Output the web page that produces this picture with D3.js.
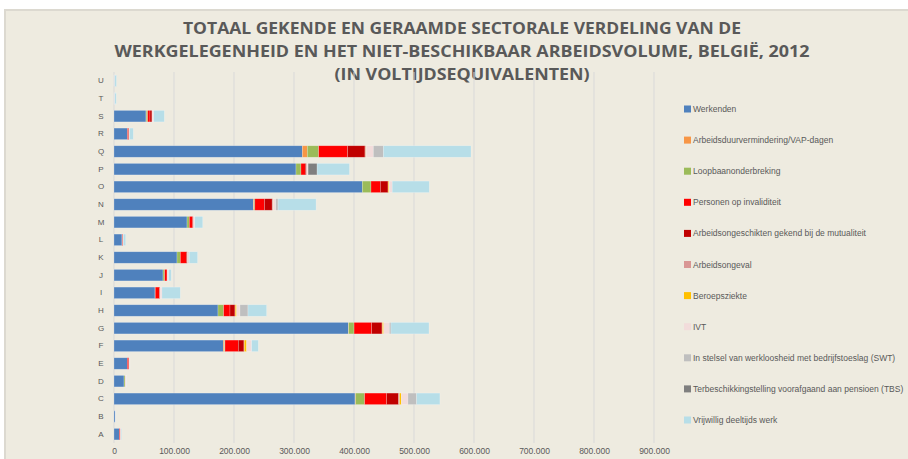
<!DOCTYPE html>
<html><head><meta charset="utf-8">
<script src="https://cdn.jsdelivr.net/npm/d3@7"></script>
<style>html,body{margin:0;padding:0;background:#fff;}svg{display:block;}</style>
</head><body>
<svg id="chart" width="908" height="459"></svg>
<script>
// Categories (A..U)
const categories = ["A","B","C","D","E","F","G","H","I","J","K","L","M","N","O","P","Q","R","S","T","U"];
const seriesNames = [
  "Werkenden",
  "Arbeidsduurvermindering/VAP-dagen",
  "Loopbaanonderbreking",
  "Personen op invaliditeit",
  "Arbeidsongeschikten gekend bij de mutualiteit",
  "Arbeidsongeval",
  "Beroepsziekte",
  "IVT",
  "In stelsel van werkloosheid met bedrijfstoeslag (SWT)",
  "Terbeschikkingstelling voorafgaand aan pensioen (TBS)",
  "Vrijwillig deeltijds werk"
];
const seriesColors = ["#4F81BD","#F79646","#9BBB59","#FF0000","#C00000","#D99694","#FFC000","#F2DCDB","#BFBFBF","#7F7F7F","#B7DEE8"];
//                     A     B     C       D      E      F       G       H       I      J      K       L      M       N       O       P       Q       R      S      T    U
const werkenden     = [9000, 2000, 401700, 16700, 22200, 182200, 390600, 173300, 68300, 81700, 105000, 13300, 121700, 232200, 413900, 303300, 313900, 22200, 53300, 500, 300];
const adv           = [0,    0,    1000,   0,     0,     2000,   500,    0,      0,     0,     0,      0,     0,      1000,   0,      0,      8300,   0,     500,   0,   0];
const loopbaan      = [0,    0,    15000,  2000,  0,     800,    9000,   9400,   500,   2800,  5600,   300,   3900,   1500,   14400,  8300,   18900,  300,   2300,  0,   0];
const invaliditeit  = [1500, 200,  36700,  500,   2500,  22200,  29400,  10600,  6800,  3900,  10000,  1000,  5600,   16100,  15600,  7200,   48300,  2000,  3900,  0,   0];
const mutualiteit   = [300,  100,  20000,  300,   300,   9400,   17200,  8300,   1000,  800,   1700,   400,   1100,   12800,  12800,  2200,   28900,  500,   3300,  0,   0];
const ongeval       = [500,  0,    1500,   200,   0,     500,    800,    500,    300,   300,   300,    0,     300,    1500,   500,    500,    1500,   500,   300,   400, 0];
const beroepsziekte = [0,    0,    3000,   0,     0,     4000,   2000,   2300,   0,     0,     0,      0,     0,      500,    1500,   0,      500,    0,     0,     0,   0];
const ivt           = [300,  100,  11000,  1200,  1000,  8300,   9400,   5600,   3000,  1500,  1500,   500,   2000,   4000,   5000,   2000,   12000,  500,   2500,  300, 300];
const swt           = [0,    0,    14400,  0,     500,   0,      2800,   13300,  0,     0,     1300,   0,     0,      3900,   0,      0,      16700,  0,     0,     0,   700];
const tbs           = [0,    0,    0,      0,     0,     0,      0,      0,      0,     0,     0,      0,     0,      0,      0,      15000,  0,      0,     0,     0,   0];
const vrijwillig    = [1000, 700,  38900,  500,   0,     11100,  63300,  31100,  30600, 4400,  13900,  4000,  13300,  63300,  61700,  53900,  146000, 6100,  17800, 2500,2800];
const seriesValues = [werkenden, adv, loopbaan, invaliditeit, mutualiteit, ongeval, beroepsziekte, ivt, swt, tbs, vrijwillig];
const xTicks = [0,100000,200000,300000,400000,500000,600000,700000,800000,900000];
const titleLines = [
  "TOTAAL GEKENDE EN GERAAMDE SECTORALE VERDELING VAN DE",
  "WERKGELEGENHEID EN HET NIET-BESCHIKBAAR ARBEIDSVOLUME, BELGIË, 2012",
  "(IN VOLTIJDSEQUIVALENTEN)"
];

const svg = d3.select("#chart");
svg.append("rect").attr("x",5).attr("y",10).attr("width",910).attr("height",460)
  .attr("fill","#EEEBE0").attr("stroke","#DCD9D0").attr("stroke-width",2);

const tl = [558, 695, 255];
const ty = [34, 57, 80];
titleLines.forEach((t,i)=>{
  svg.append("text").attr("x",462).attr("y",ty[i]).attr("text-anchor","middle")
    .attr("font-family","'Open Sans', 'Liberation Sans', sans-serif").attr("font-weight","bold")
    .attr("font-size",16).attr("fill","#595959")
    .attr("textLength",tl[i]).attr("lengthAdjust","spacingAndGlyphs").text(t);
});

const x = d3.scaleLinear().domain([0,900000]).range([114,654]);
const y = d3.scaleBand().domain(categories.slice().reverse()).range([72,443]).paddingInner(0.35).paddingOuter(0.175);

// gridlines
svg.append("g").selectAll("line").data(xTicks.slice(1)).join("line")
  .attr("x1",d=>x(d)).attr("x2",d=>x(d)).attr("y1",72).attr("y2",443)
  .attr("stroke","#D9D9D9").attr("stroke-width",1);
svg.append("line").attr("x1",x(0)).attr("x2",x(0)).attr("y1",72).attr("y2",443).attr("stroke","#D9D9D9");

// stacked data
const rows = categories.map((c,i)=>{ const o={cat:c}; seriesNames.forEach((s,j)=>o[s]=seriesValues[j][i]); return o; });
const stack = d3.stack().keys(seriesNames)(rows);
svg.append("g").selectAll("g").data(stack).join("g")
  .attr("fill",(d,i)=>seriesColors[i])
  .selectAll("rect").data(d=>d).join("rect")
  .attr("x",d=>x(d[0])).attr("width",d=>Math.max(0,x(d[1])-x(d[0])))
  .attr("y",d=>y(d.data.cat)).attr("height",y.bandwidth())
  .attr("stroke","rgba(255,255,255,0.35)").attr("stroke-width",0.6);

// x axis labels
const xAxis = d3.axisBottom(x).tickValues(xTicks).tickSize(0).tickPadding(5)
  .tickFormat(d=>d===0?"0":d3.format(",")(d).replace(/,/g,"."));
const gx = svg.append("g").attr("transform","translate(0,443)").call(xAxis);
gx.select(".domain").remove();
gx.selectAll("text").attr("font-family","'Liberation Sans', sans-serif").attr("font-size",8.5).attr("fill","#595959");

// y axis labels
const yAxis = d3.axisLeft(y).tickSize(0).tickPadding(10);
const gy = svg.append("g").attr("transform","translate(113,0)").call(yAxis);
gy.select(".domain").remove();
gy.selectAll("text").attr("font-family","'Liberation Sans', sans-serif").attr("font-size",8).attr("fill","#595959").attr("text-anchor","middle").attr("x",-12);

// legend
const lg = svg.append("g").selectAll("g").data(seriesNames).join("g")
  .attr("transform",(d,i)=>`translate(684,${109+i*31.1})`);
lg.append("rect").attr("x",0).attr("y",-3.5).attr("width",7).attr("height",7).attr("fill",(d,i)=>seriesColors[i]);
lg.append("text").attr("x",9).attr("y",3).attr("font-family","'Liberation Sans', sans-serif").attr("font-size",8.5).attr("fill","#595959").text(d=>d);
</script>
</body></html>
